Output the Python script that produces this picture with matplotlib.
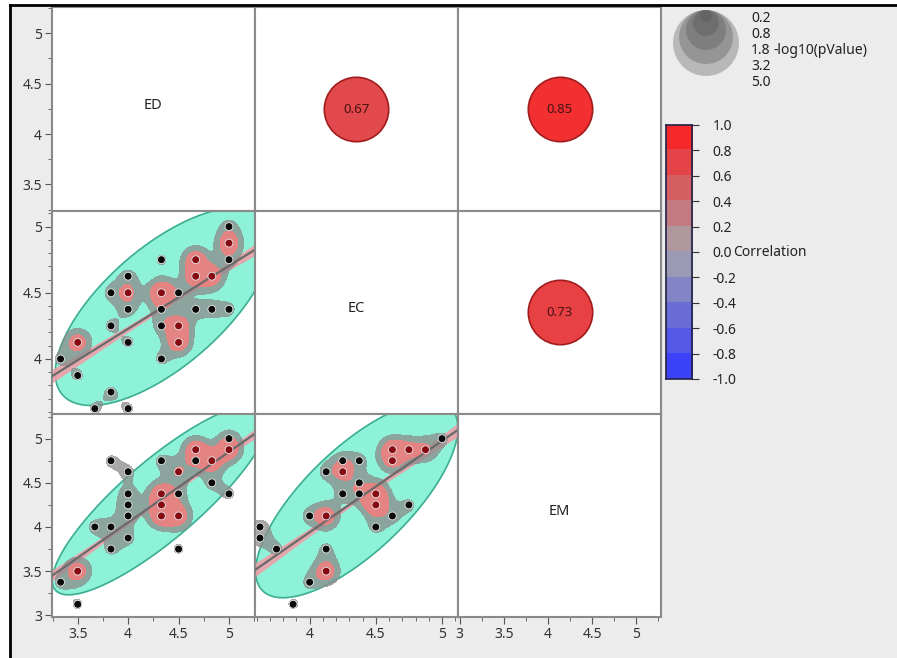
import numpy as np
import matplotlib.pyplot as plt
from matplotlib.lines import Line2D
from matplotlib.patches import Rectangle, Circle
from matplotlib.colors import LinearSegmentedColormap
from matplotlib.ticker import MultipleLocator

plt.rcParams['font.family'] = ['Noto Sans', 'DejaVu Sans']

W, H = 897, 658

# ---- variables / axes ----
variables = ["ED", "EC", "EM"]
limits = {"ED": (3.24, 5.255), "EC": (3.585, 5.12), "EM": (2.98, 5.28)}
major_ticks = {"ED": [3.5, 4, 4.5, 5], "EC": [4, 4.5, 5], "EM": [3, 3.5, 4, 4.5, 5]}
minor_step = {"ED": 0.25, "EC": 0.1, "EM": 0.25}

# ---- correlations (upper triangle) ----
corr_pairs = [("ED", "EC"), ("ED", "EM"), ("EC", "EM")]
corr_values = [0.67, 0.85, 0.73]

ed_ec_x = [3.33, 3.5, 3.5, 3.67, 3.83, 4.0, 3.83, 3.83, 4.0, 4.0, 4.0, 4.0, 4.33, 4.33, 4.33,
           4.33, 4.33, 4.5, 4.5, 4.5, 4.67, 4.67, 4.83, 4.67, 4.83, 5.0, 5.0, 5.0, 5.0]
ed_ec_y = [4.0, 4.125, 3.875, 3.625, 3.75, 3.625, 4.5, 4.25, 4.625, 4.5, 4.375, 4.125, 4.75, 4.5, 4.375,
           4.25, 4.0, 4.5, 4.25, 4.125, 4.75, 4.625, 4.625, 4.375, 4.375, 4.375, 4.75, 4.875, 5.0]
ed_ec_n = [1, 3, 1, 1, 1, 1, 1, 1, 1, 2, 1, 1, 1, 4, 1,
           1, 1, 1, 3, 3, 3, 3, 3, 1, 1, 1, 1, 3, 1]

ed_em_x = [3.33, 3.5, 3.5, 3.67, 3.83, 3.83, 3.83, 4.0, 4.0, 4.0, 4.0, 4.0, 4.33, 4.33,
           4.33, 4.33, 4.5, 4.5, 4.5, 4.5, 4.67, 4.67, 4.83, 4.83, 5.0, 5.0, 5.0]
ed_em_y = [3.375, 3.125, 3.5, 4.0, 4.0, 4.75, 3.75, 4.625, 4.375, 4.25, 4.125, 3.875, 4.75, 4.375,
           4.25, 4.125, 4.625, 4.375, 4.125, 3.75, 4.875, 4.75, 4.75, 4.5, 5.0, 4.875, 4.375]
ed_em_n = [1, 1, 3, 1, 1, 1, 1, 1, 1, 1, 1, 1, 1, 3,
           2, 3, 2, 1, 3, 1, 3, 1, 3, 1, 1, 3, 1]

ec_em_x = [3.625, 3.625, 3.75, 3.875, 4.0, 4.125, 4.125, 4.0, 4.125, 4.125, 4.25, 4.25, 4.375,
           4.375, 4.25, 4.375, 4.5, 4.5, 4.625, 4.5, 4.75, 4.625, 4.625, 4.75, 4.875, 5.0]
ec_em_y = [4.0, 3.875, 3.75, 3.125, 3.375, 3.5, 3.75, 4.125, 4.125, 4.625, 4.75, 4.625, 4.75,
           4.5, 4.375, 4.375, 4.375, 4.25, 4.125, 4.0, 4.25, 4.875, 4.75, 4.875, 4.875, 5.0]
ec_em_n = [1, 1, 1, 1, 1, 3, 1, 1, 3, 1, 1, 2, 1,
           1, 1, 1, 3, 3, 1, 1, 1, 3, 2, 2, 2, 1]

scatter_data = {
    ("ED", "EC"): (ed_ec_x, ed_ec_y, ed_ec_n),
    ("ED", "EM"): (ed_em_x, ed_em_y, ed_em_n),
    ("EC", "EM"): (ec_em_x, ec_em_y, ec_em_n),
}

# each dot stands for several respondents (estimated from the narrow fit band)
OBS_PER_DOT = 12

# legend values
pvalue_levels = ["0.2", "0.8", "1.8", "3.2", "5.0"]
cbar_ticks = [1.0, 0.8, 0.6, 0.4, 0.2, 0.0, -0.2, -0.4, -0.6, -0.8, -1.0]

corr_cmap = LinearSegmentedColormap.from_list(
    "corr", ["#3038ff", "#a7a5ad", "#ff1c1c"])

PANEL_X0, PANEL_Y0, PANEL = 51.5, 7.5, 203.2
SIGMA = 9.0         # kde bandwidth in pixels
LEVEL_GRAY, LEVEL_RED = 0.9, 2.1
ELLIPSE_CHI2 = 5.3    # ~93% density ellipse


def panel_axes(fig, r, c):
    left = PANEL_X0 + c * PANEL
    top = PANEL_Y0 + r * PANEL
    return fig.add_axes([left / W, 1 - (top + PANEL) / H, PANEL / W, PANEL / H])


def draw_scatter(ax, xv, yv, x, y, n, rho):
    x, y, n = np.array(x), np.array(y), np.array(n)
    xl, yl = limits[xv], limits[yv]
    sx = PANEL / (xl[1] - xl[0])
    sy = PANEL / (yl[1] - yl[0])

    # density ellipse: data means / sds with the reported correlation
    xs, ys = np.repeat(x, n * OBS_PER_DOT), np.repeat(y, n * OBS_PER_DOT)
    mean = np.array([xs.mean(), ys.mean()])
    sdx, sdy = xs.std(ddof=1), ys.std(ddof=1)
    cov = np.array([[sdx ** 2, rho * sdx * sdy], [rho * sdx * sdy, sdy ** 2]])
    L = np.linalg.cholesky(cov)
    t = np.linspace(0, 2 * np.pi, 300)
    circ = np.vstack([np.cos(t), np.sin(t)]) * np.sqrt(ELLIPSE_CHI2)
    ell = (L @ circ).T + mean
    ax.fill(ell[:, 0], ell[:, 1], color="#8ef2d8", zorder=1)
    ax.plot(ell[:, 0], ell[:, 1], color="#3fae92", lw=1.2, zorder=1.1)

    # fitted line with confidence band
    b1, b0 = np.polyfit(xs, ys, 1)
    resid = ys - (b0 + b1 * xs)
    s = np.sqrt((resid ** 2).sum() / (len(xs) - 2))
    xx = np.linspace(xl[0], xl[1], 100)
    se = s * np.sqrt(1 / len(xs) + (xx - xs.mean()) ** 2 / ((xs - xs.mean()) ** 2).sum())
    yy = b0 + b1 * xx
    ax.fill_between(xx, yy - 1.97 * se, yy + 1.97 * se, color="#f39aa6", alpha=0.85, lw=0, zorder=1.5)

    # kernel density contours in pixel space
    gx, gy = np.meshgrid(np.linspace(xl[0], xl[1], 300), np.linspace(yl[0], yl[1], 300))
    dens = np.zeros_like(gx)
    for xi, yi, ni in zip(x, y, n):
        dens += ni * np.exp(-(((gx - xi) * sx) ** 2 + ((gy - yi) * sy) ** 2) / (2 * SIGMA ** 2))
    ax.contourf(gx, gy, dens, levels=[LEVEL_GRAY, 1e9], colors=["#8a8a8a"], alpha=0.75, zorder=2)
    ax.contourf(gx, gy, dens, levels=[LEVEL_RED, 1e9], colors=["#ee8080"], alpha=0.9, zorder=2.1)

    ax.plot(xx, yy, color="#6a6a6a", lw=1.6, zorder=3)

    # stacked dots drawn dark red, single ones black
    cols = np.where(n >= 2, "#850a12", "#0a0a0a")
    ax.scatter(x, y, s=32, c=list(cols), edgecolors="#e8e8e8", linewidths=0.6, zorder=4)


fig = plt.figure(figsize=(W / 100, H / 100), dpi=100, facecolor="white")
fig.add_artist(Rectangle((10 / W, 0), 1, 1 - 5 / H, transform=fig.transFigure,
                         facecolor="#ececec", edgecolor="none", zorder=-10))
fig.add_artist(Line2D([10 / W, 10 / W], [0, 1 - 5 / H], color="black", lw=2))
fig.add_artist(Line2D([10 / W, 1], [1 - 5 / H, 1 - 5 / H], color="black", lw=2))

for r, yv in enumerate(variables):
    for c, xv in enumerate(variables):
        ax = panel_axes(fig, r, c)
        ax.set_facecolor("white")
        ax.set_xlim(*limits[xv])
        ax.set_ylim(*limits[yv])
        ax.set_xticks(major_ticks[xv])
        ax.set_yticks(major_ticks[yv])
        ax.xaxis.set_minor_locator(MultipleLocator(minor_step[xv]))
        ax.yaxis.set_minor_locator(MultipleLocator(minor_step[yv]))
        ax.set_xticklabels([f"{v:g}" for v in major_ticks[xv]])
        ax.set_yticklabels([f"{v:g}" for v in major_ticks[yv]])
        ax.tick_params(which="major", length=5, color="#555555", labelsize=10, labelcolor="#333333", pad=2)
        ax.tick_params(which="minor", length=3, color="#555555")
        ax.tick_params(which="both", left=(c == 0), labelleft=(c == 0),
                       bottom=(r == 2), labelbottom=(r == 2))
        for sp in ax.spines.values():
            sp.set_color("#8a8a8a")
            sp.set_linewidth(1.5)

        if r == c:
            ax.text(0.5, 0.52, xv, transform=ax.transAxes, ha="center", va="center",
                    fontsize=10.5, color="#222222")
        elif r < c:
            val = corr_values[corr_pairs.index((yv, xv))]
            ax.scatter([0.5], [0.5], s=2150, color=corr_cmap((val + 1) / 2),
                       edgecolors="#a01c1c", linewidths=1.2, transform=ax.transAxes, zorder=3)
            ax.text(0.5, 0.5, f"{val:.2f}", transform=ax.transAxes, ha="center", va="center",
                    fontsize=9.5, color="#4a1212", zorder=4)
        else:
            x, y, n = scatter_data[(xv, yv)]
            rho = corr_values[corr_pairs.index((xv, yv))]
            draw_scatter(ax, xv, yv, x, y, n, rho)

# ---- size legend (-log10 pValue) ----
lax = fig.add_axes([665 / W, 1 - 80 / H, 80 / W, 75 / H])
lax.set_xlim(665, 745)
lax.set_ylim(80, 5)
lax.axis("off")
for rad in [33, 27, 20, 13, 6]:
    lax.add_patch(Circle((706, 10 + rad), rad, facecolor="#505050", alpha=0.33, edgecolor="none"))
for lab, yy in zip(pvalue_levels, [18, 35, 50, 67, 83]):
    fig.text(751 / W, 1 - yy / H, lab, fontsize=10, color="#222222", va="center", ha="left")
fig.text(773 / W, 1 - 50 / H, "-log10(pValue)", fontsize=10, color="#222222", va="center", ha="left")

# ---- correlation colour bar ----
cax = fig.add_axes([666 / W, 1 - 379 / H, 26 / W, 254 / H])
bins = np.linspace(0.9, -0.9, 10).reshape(-1, 1)
cax.imshow(bins, cmap=corr_cmap, vmin=-1, vmax=1, aspect="auto", extent=[0, 1, -1, 1])
cax.set_xticks([])
cax.yaxis.tick_right()
cax.set_yticks(cbar_ticks)
cax.set_yticklabels([f"{v:.1f}" for v in cbar_ticks])
cax.tick_params(axis="y", length=5, color="#333333", labelsize=10, labelcolor="#222222", pad=10)
for sp in cax.spines.values():
    sp.set_color("#222244")
    sp.set_linewidth(1.2)
fig.text(733 / W, 1 - 253 / H, "Correlation", fontsize=10, color="#222222", va="center", ha="left")

fig.savefig("out.png", dpi=100, facecolor=fig.get_facecolor())
